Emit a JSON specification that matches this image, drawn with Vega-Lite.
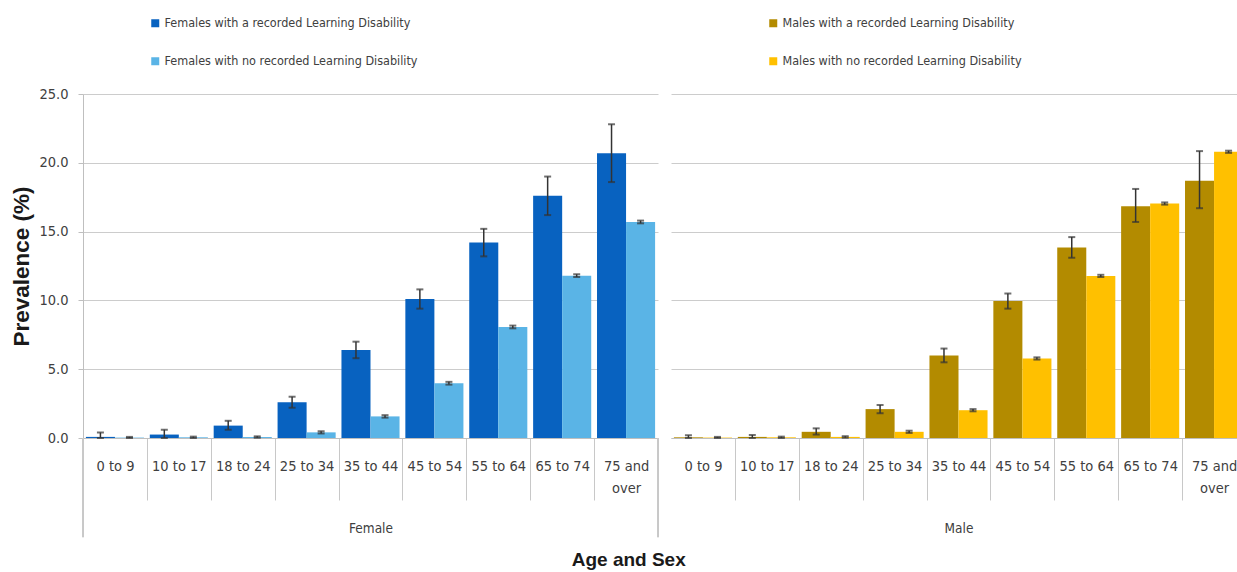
{
  "$schema": "https://vega.github.io/schema/vega-lite/v6.json",
  "padding": {"left": 10, "top": 17, "right": 0, "bottom": 0},
  "background": "white",
  "config": {"view": {"stroke": null}, "font": "DejaVu Sans Condensed, Liberation Sans, sans-serif", "concat": {"spacing": 12}},
  "title": {"text": "Age and Sex", "orient": "bottom", "anchor": "middle", "font": "Liberation Sans", "fontSize": 19, "fontWeight": "bold", "color": "#1a1a1a", "offset": 13},
  "datasets": {
    "female": [
      {"age": "0 to 9", "series": "Females with a recorded Learning Disability", "value": 0.08, "lo": 0, "hi": 0.4},
      {"age": "10 to 17", "series": "Females with a recorded Learning Disability", "value": 0.25, "lo": 0, "hi": 0.6},
      {"age": "18 to 24", "series": "Females with a recorded Learning Disability", "value": 0.9, "lo": 0.6, "hi": 1.25},
      {"age": "25 to 34", "series": "Females with a recorded Learning Disability", "value": 2.6, "lo": 2.2, "hi": 3.0},
      {"age": "35 to 44", "series": "Females with a recorded Learning Disability", "value": 6.4, "lo": 5.8, "hi": 7.0},
      {"age": "45 to 54", "series": "Females with a recorded Learning Disability", "value": 10.1, "lo": 9.4, "hi": 10.8},
      {"age": "55 to 64", "series": "Females with a recorded Learning Disability", "value": 14.2, "lo": 13.2, "hi": 15.2},
      {"age": "65 to 74", "series": "Females with a recorded Learning Disability", "value": 17.6, "lo": 16.2, "hi": 19.0},
      {"age": "75 and over", "series": "Females with a recorded Learning Disability", "value": 20.7, "lo": 18.6, "hi": 22.8},
      {"age": "0 to 9", "series": "Females with no recorded Learning Disability", "value": 0.03, "lo": 0, "hi": 0.08},
      {"age": "10 to 17", "series": "Females with no recorded Learning Disability", "value": 0.05, "lo": 0, "hi": 0.1},
      {"age": "18 to 24", "series": "Females with no recorded Learning Disability", "value": 0.07, "lo": 0.02, "hi": 0.12},
      {"age": "25 to 34", "series": "Females with no recorded Learning Disability", "value": 0.41, "lo": 0.33, "hi": 0.49},
      {"age": "35 to 44", "series": "Females with no recorded Learning Disability", "value": 1.57, "lo": 1.48, "hi": 1.66},
      {"age": "45 to 54", "series": "Females with no recorded Learning Disability", "value": 3.98, "lo": 3.88, "hi": 4.08},
      {"age": "55 to 64", "series": "Females with no recorded Learning Disability", "value": 8.07, "lo": 7.97, "hi": 8.17},
      {"age": "65 to 74", "series": "Females with no recorded Learning Disability", "value": 11.8, "lo": 11.7, "hi": 11.9},
      {"age": "75 and over", "series": "Females with no recorded Learning Disability", "value": 15.7, "lo": 15.6, "hi": 15.8}
    ],
    "male": [
      {"age": "0 to 9", "series": "Males with a recorded Learning Disability", "value": 0.05, "lo": 0, "hi": 0.2},
      {"age": "10 to 17", "series": "Males with a recorded Learning Disability", "value": 0.08, "lo": 0, "hi": 0.22},
      {"age": "18 to 24", "series": "Males with a recorded Learning Disability", "value": 0.45, "lo": 0.25, "hi": 0.7},
      {"age": "25 to 34", "series": "Males with a recorded Learning Disability", "value": 2.1, "lo": 1.8, "hi": 2.4},
      {"age": "35 to 44", "series": "Males with a recorded Learning Disability", "value": 6.0, "lo": 5.5, "hi": 6.5},
      {"age": "45 to 54", "series": "Males with a recorded Learning Disability", "value": 9.95, "lo": 9.4, "hi": 10.5},
      {"age": "55 to 64", "series": "Males with a recorded Learning Disability", "value": 13.85, "lo": 13.1, "hi": 14.6},
      {"age": "65 to 74", "series": "Males with a recorded Learning Disability", "value": 16.85, "lo": 15.7, "hi": 18.1},
      {"age": "75 and over", "series": "Males with a recorded Learning Disability", "value": 18.7, "lo": 16.7, "hi": 20.85},
      {"age": "0 to 9", "series": "Males with no recorded Learning Disability", "value": 0.03, "lo": 0, "hi": 0.08},
      {"age": "10 to 17", "series": "Males with no recorded Learning Disability", "value": 0.05, "lo": 0, "hi": 0.1},
      {"age": "18 to 24", "series": "Males with no recorded Learning Disability", "value": 0.08, "lo": 0.02, "hi": 0.13},
      {"age": "25 to 34", "series": "Males with no recorded Learning Disability", "value": 0.45, "lo": 0.37, "hi": 0.53},
      {"age": "35 to 44", "series": "Males with no recorded Learning Disability", "value": 2.02, "lo": 1.94, "hi": 2.1},
      {"age": "45 to 54", "series": "Males with no recorded Learning Disability", "value": 5.78, "lo": 5.7, "hi": 5.86},
      {"age": "55 to 64", "series": "Males with no recorded Learning Disability", "value": 11.78, "lo": 11.7, "hi": 11.86},
      {"age": "65 to 74", "series": "Males with no recorded Learning Disability", "value": 17.04, "lo": 16.96, "hi": 17.12},
      {"age": "75 and over", "series": "Males with no recorded Learning Disability", "value": 20.8, "lo": 20.72, "hi": 20.88}
    ]
  },
  "resolve": {"scale": {"color": "independent", "xOffset": "independent", "x": "independent"}, "legend": {"color": "independent"}},
  "hconcat": [
    {
      "width": 575, "height": 344,
      "data": {"name": "female"},
      "encoding": {
        "x": {"field": "age", "type": "nominal", "sort": null, "title": "Female",
          "scale": {"paddingInner": 0, "paddingOuter": 0},
          "axis": {"labelAngle": 0, "labelFontSize": 14.5, "labelColor": "#404040",
            "tickBand": "extent", "tickSize": 62, "tickColor": "#c8c8c8", "labelPadding": -41, "labelBaseline": "top", "labelLineHeight": 22,
            "domainColor": "#bfbfbf", "labelExpr": "datum.label == '75 and over' ? ['75 and', 'over'] : datum.label",
            "titleFontWeight": "normal", "titleFontSize": 13.5, "titleColor": "#404040", "titlePadding": 21}},
        "xOffset": {"field": "series", "sort": null, "scale": {"paddingInner": 0, "paddingOuter": 0.1}}
      },
      "layer": [
        {
          "mark": {"type": "bar"},
          "encoding": {
            "y": {"field": "value", "type": "quantitative", "title": "Prevalence (%)",
              "scale": {"domain": [0, 25], "nice": false, "zero": false},
              "axis": {"values": [0, 5, 10, 15, 20, 25], "format": ".1f", "labelFontSize": 14.5, "labelColor": "#404040",
                "tickColor": "#bfbfbf", "tickSize": 5, "labelPadding": 10, "domainColor": "#bfbfbf", "gridColor": "#cccccc",
                "titleFont": "Liberation Sans", "titleFontSize": 22.5, "titleFontWeight": "bold", "titleColor": "#1a1a1a", "titlePadding": 5}},
            "color": {"field": "series", "type": "nominal", "sort": null,
              "scale": {"domain": ["Females with a recorded Learning Disability", "Females with no recorded Learning Disability"], "range": ["#0862C0", "#5AB4E6"]},
              "legend": {"orient": "none", "legendX": 66, "legendY": -77, "direction": "vertical", "title": null,
                "labelFontSize": 12.5, "labelColor": "#404040", "labelLimit": 500, "symbolType": "square", "symbolSize": 64,
                "rowPadding": 25, "labelOffset": 3, "symbolStrokeWidth": 0}}
          }
        },
        {"mark": {"type": "rule", "color": "#333333", "strokeWidth": 1.5},
          "encoding": {"y": {"field": "lo", "type": "quantitative", "scale": {"domain": [0, 25], "nice": false, "zero": false}}, "y2": {"field": "hi"}}},
        {"mark": {"type": "tick", "orient": "horizontal", "size": 7, "thickness": 2, "color": "#333333"},
          "encoding": {"y": {"field": "hi", "type": "quantitative", "scale": {"domain": [0, 25], "nice": false, "zero": false}}}},
        {"mark": {"type": "tick", "orient": "horizontal", "size": 7, "thickness": 2, "color": "#333333"},
          "encoding": {"y": {"field": "lo", "type": "quantitative", "scale": {"domain": [0, 25], "nice": false, "zero": false}}}},
        {"mark": {"type": "rule", "color": "#c8c8c8", "strokeWidth": 1},
          "encoding": {"x": {"datum": "0 to 9", "bandPosition": 0}, "xOffset": null, "y": {"datum": 0, "type": "quantitative", "scale": {"domain": [0, 25], "nice": false, "zero": false}}, "y2": {"datum": -7.2}}},
        {"mark": {"type": "rule", "color": "#c8c8c8", "strokeWidth": 1},
          "encoding": {"x": {"datum": "75 and over", "bandPosition": 1}, "xOffset": null, "y": {"datum": 0, "type": "quantitative", "scale": {"domain": [0, 25], "nice": false, "zero": false}}, "y2": {"datum": -7.2}}}
      ]
    },
    {
      "width": 575, "height": 344,
      "data": {"name": "male"},
      "encoding": {
        "x": {"field": "age", "type": "nominal", "sort": null, "title": "Male",
          "scale": {"paddingInner": 0, "paddingOuter": 0},
          "axis": {"labelAngle": 0, "labelFontSize": 14.5, "labelColor": "#404040",
            "tickBand": "extent", "tickSize": 62, "tickColor": "#c8c8c8", "labelPadding": -41, "labelBaseline": "top", "labelLineHeight": 22,
            "tickOpacity": {"condition": {"test": "datum.index < 0", "value": 0}, "value": 1},
            "domainColor": "#bfbfbf", "labelExpr": "datum.label == '75 and over' ? ['75 and', 'over'] : datum.label",
            "titleFontWeight": "normal", "titleFontSize": 13.5, "titleColor": "#404040", "titlePadding": 21}},
        "xOffset": {"field": "series", "sort": null, "scale": {"paddingInner": 0, "paddingOuter": 0.1}}
      },
      "layer": [
        {
          "mark": {"type": "bar"},
          "encoding": {
            "y": {"field": "value", "type": "quantitative", "title": null,
              "scale": {"domain": [0, 25], "nice": false, "zero": false},
              "axis": {"values": [0, 5, 10, 15, 20, 25], "labels": false, "ticks": false, "domain": false, "gridColor": "#cccccc"}},
            "color": {"field": "series", "type": "nominal", "sort": null,
              "scale": {"domain": ["Males with a recorded Learning Disability", "Males with no recorded Learning Disability"], "range": ["#B38B00", "#FFC000"]},
              "legend": {"orient": "none", "legendX": 96, "legendY": -77, "direction": "vertical", "title": null,
                "labelFontSize": 12.5, "labelColor": "#404040", "labelLimit": 500, "symbolType": "square", "symbolSize": 64,
                "rowPadding": 25, "labelOffset": 3, "symbolStrokeWidth": 0}}
          }
        },
        {"mark": {"type": "rule", "color": "#333333", "strokeWidth": 1.5},
          "encoding": {"y": {"field": "lo", "type": "quantitative", "scale": {"domain": [0, 25], "nice": false, "zero": false}}, "y2": {"field": "hi"}}},
        {"mark": {"type": "tick", "orient": "horizontal", "size": 7, "thickness": 2, "color": "#333333"},
          "encoding": {"y": {"field": "hi", "type": "quantitative", "scale": {"domain": [0, 25], "nice": false, "zero": false}}}},
        {"mark": {"type": "tick", "orient": "horizontal", "size": 7, "thickness": 2, "color": "#333333"},
          "encoding": {"y": {"field": "lo", "type": "quantitative", "scale": {"domain": [0, 25], "nice": false, "zero": false}}}}
      ]
    }
  ]
}
